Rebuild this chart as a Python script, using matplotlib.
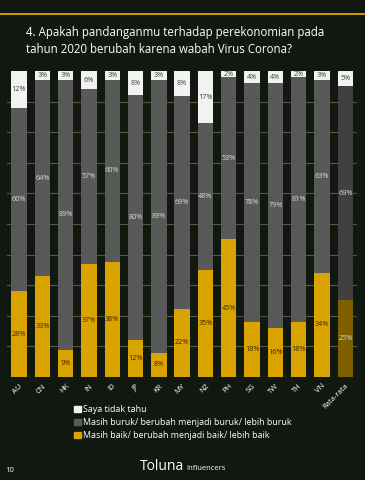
import numpy as np
import matplotlib.pyplot as plt

plt.rcParams['font.family'] = ['Open Sans', 'DejaVu Sans']

# Data
countries = ['AU', 'CN', 'HK', 'IN', 'ID', 'JP', 'KR', 'MY', 'NZ', 'PH', 'SG', 'TW', 'TH', 'VN', 'Rata-rata']
baik = [28, 33, 9, 37, 38, 12, 8, 22, 35, 45, 18, 16, 18, 34, 25]
buruk = [60, 64, 89, 57, 60, 80, 89, 69, 48, 53, 78, 79, 81, 63, 69]
tidak_tahu = [12, 3, 3, 6, 3, 8, 3, 8, 17, 2, 4, 4, 2, 3, 5]

legend_labels = ['Saya tidak tahu',
                 'Masih buruk/ berubah menjadi buruk/ lebih buruk',
                 'Masih baik/ berubah menjadi baik/ lebih baik']

bg = '#111810'
gold = '#d9a300'
grey = '#595959'
white = '#f2f2f2'
gold_avg = '#7f6000'
grey_avg = '#404040'

fig = plt.figure(figsize=(3.65, 4.8), dpi=100, facecolor=bg)

# gold line on top
fig.add_artist(plt.Line2D([0, 1], [1 - 14 / 480, 1 - 14 / 480], color='#e0a800', lw=1.3))

fig.text(26 / 365, 1 - 41 / 480,
         '4. Apakah pandanganmu terhadap perekonomian pada\ntahun 2020 berubah karena wabah Virus Corona?',
         color='white', fontsize=8.3, va='center', ha='left', linespacing=1.45)

ax = fig.add_axes([7.3 / 365, 1 - 377 / 480, 349.7 / 365, 306 / 480])
ax.set_facecolor(bg)

x = np.arange(len(countries))
baik = np.array(baik, dtype=float)
buruk = np.array(buruk, dtype=float)
tidak_tahu = np.array(tidak_tahu, dtype=float)
# stacks are shown as full 100% bars
tot = baik + buruk + tidak_tahu
b_n = baik / tot * 100
r_n = buruk / tot * 100
t_n = tidak_tahu / tot * 100

c_gold = [gold] * (len(x) - 1) + [gold_avg]
c_grey = [grey] * (len(x) - 1) + [grey_avg]

w = 0.66
ax.bar(x, b_n, w, color=c_gold, zorder=2)
ax.bar(x, r_n, w, bottom=b_n, color=c_grey, zorder=2)
ax.bar(x, t_n, w, bottom=b_n + r_n, color=white, zorder=2)

fs = 5.2
for i in range(len(x)):
    gc = '#d9d9d9' if i == len(x) - 1 else '#3a2c00'
    ax.text(x[i], b_n[i] / 2, '%d%%' % baik[i], ha='center', va='center', fontsize=fs, color=gc, zorder=3)
    ax.text(x[i], b_n[i] + r_n[i] / 2, '%d%%' % buruk[i], ha='center', va='center', fontsize=fs, color='#d9d9d9', zorder=3)
    ax.text(x[i], b_n[i] + r_n[i] + t_n[i] / 2, '%d%%' % tidak_tahu[i], ha='center', va='center',
            fontsize=fs, color='#404040', zorder=3)

ax.set_xlim(-0.5, len(x) - 0.5)
ax.set_ylim(0, 100)
for yv in range(0, 100, 10):
    ax.axhline(yv, color='#505848', lw=0.8, zorder=1)
for s in ax.spines.values():
    s.set_visible(False)
ax.set_yticks([])
ax.set_xticks(x)
ax.set_xticklabels(countries, rotation=45, ha='right', rotation_mode='anchor', fontsize=5.5, color='white')
ax.tick_params(axis='x', length=0, pad=4)

# legend
handles = [plt.Rectangle((0, 0), 1, 1, color=c) for c in [white, grey, gold]]
leg = fig.legend(handles, legend_labels, loc='upper left', bbox_to_anchor=(70 / 365, 1 - 401 / 480),
                 frameon=False, fontsize=6.4, labelcolor='white', handlelength=0.7, handleheight=0.7,
                 handletextpad=0.3, labelspacing=0.42, borderpad=0)

fig.text(5 / 365, 1 - 470 / 480, '10', color='white', fontsize=5.5, va='center')
fig.text(140 / 365, 1 - 466 / 480, 'Toluna', color='white', fontsize=10, va='center', ha='left')
fig.text(186 / 365, 1 - 469 / 480, 'Influencers', color='white', fontsize=5.5, va='center', ha='left')

fig.savefig('out.png', dpi=100, facecolor=bg)
